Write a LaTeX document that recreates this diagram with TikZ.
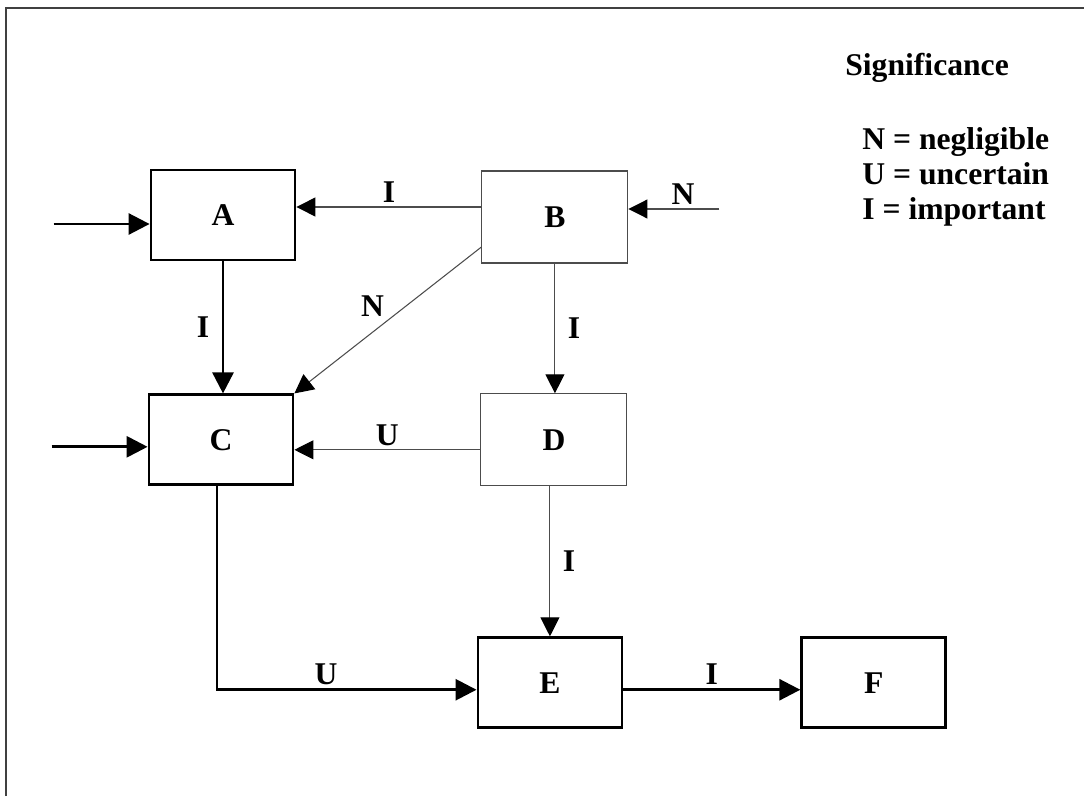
\documentclass[tikz,border=0pt]{standalone}
\usepackage{fontspec}
\setmainfont{Liberation Serif}
\usepackage{tikz}
\usetikzlibrary{arrows.meta, positioning, calc}
\tikzset{
  box/.style = {
    rectangle, draw=black, line width=1.6pt,
    minimum width=2.88cm, minimum height=1.8cm,
    text centered, inner sep=0pt
  },
  faintbox/.style = {
    rectangle, draw=black!70, line width=0.6pt,
    minimum width=2.92cm, minimum height=1.84cm,
    text centered, inner sep=0pt
  },
  arr/.style  = {-{Triangle[length=0.42cm, width=0.42cm]}, line width=1.6pt},
  tarr/.style = {-{Triangle[length=0.38cm, width=0.38cm, color=black]},
                 line width=0.6pt, draw=black!70}
}

\begin{document}
\begin{tikzpicture}[
  node distance=3.7cm,
  every node/.style={font=\bfseries\fontsize{18}{20}\selectfont},
  lbl/.style={inner sep=2pt}
]
\useasboundingbox (0,0) rectangle (21.68,15.92);

%% ── Frame ────────────────────────────────────────────
\draw[line width=0.9pt, black!75] (0.12,0) -- (0.12,15.76) -- (21.68,15.76);

%% ── Row 1: A and B ───────────────────────────────────
\node[box] (A) at (4.46,11.62) {A};

\node[faintbox, right=3.7cm of A, yshift=-0.04cm]
  (B) {B};

%% ── Row 2: C and D ───────────────────────────────────
\node[box, below=2.64cm of A, xshift=-0.04cm]
  (C) {C};

\node[faintbox, right=3.72cm of C]
  (D) {D};

%% ── Row 3: E and F ───────────────────────────────────
\node[box, below=3.0cm of D, xshift=-0.08cm]
  (E) {E};

\node[box, right=3.54cm of E]
  (F) {F};

%% ── Legend ───────────────────────────────────────────
\node[anchor=base west, inner sep=0pt]
  (sig) at (16.9,14.40) {Significance};
\node[anchor=north west, inner sep=0pt, align=left]
  (key) at (17.24,13.38)
  {N = negligible\\U = uncertain\\I = important};

%% ── Free ends ────────────────────────────────────────
\coordinate (inA) at ($(A.west)+(-1.92,-0.18)$);
\coordinate (inC) at ($(C.west)+(-1.92,-0.14)$);
\coordinate (inB) at ($(B.east)+(1.82,0.16)$);

%% ── Arrows ───────────────────────────────────────────
\draw[arr] (inA) -- (inA -| A.west);
\draw[arr] (inC) -- (inC -| C.west);
\draw[tarr] (inB) -- node[lbl, above, pos=0.4]{N} (inB -| B.east);
\draw[tarr] ([yshift=0.2cm]B.west) -- node[lbl, above]{I}
  ([yshift=0.2cm]B.west -| A.east);
\draw[tarr] ([yshift=-0.6cm]B.west) -- node[lbl, above left]{N}
  (C.north east);
\draw[arr] (A.south) -- node[lbl, left=5pt]{I} (A.south |- C.north);
\draw[tarr] (B.south) -- node[lbl, right=5pt]{I} (B.south |- D.north);
\draw[tarr] ([yshift=-0.2cm]D.west) -- node[lbl, above]{U}
  ([yshift=-0.2cm]D.west -| C.east);
\draw[tarr] (E.north |- D.south) -- node[lbl, right=5pt]{I} (E.north);
\draw[arr] ([xshift=-0.08cm]C.south) |- node[lbl, above, pos=0.71]{U}
  ([yshift=-0.14cm]E.west);
\draw[arr] ([yshift=-0.14cm]E.east) -- node[lbl, above]{I}
  ([yshift=-0.14cm]E.east -| F.west);

\end{tikzpicture}
\end{document}
